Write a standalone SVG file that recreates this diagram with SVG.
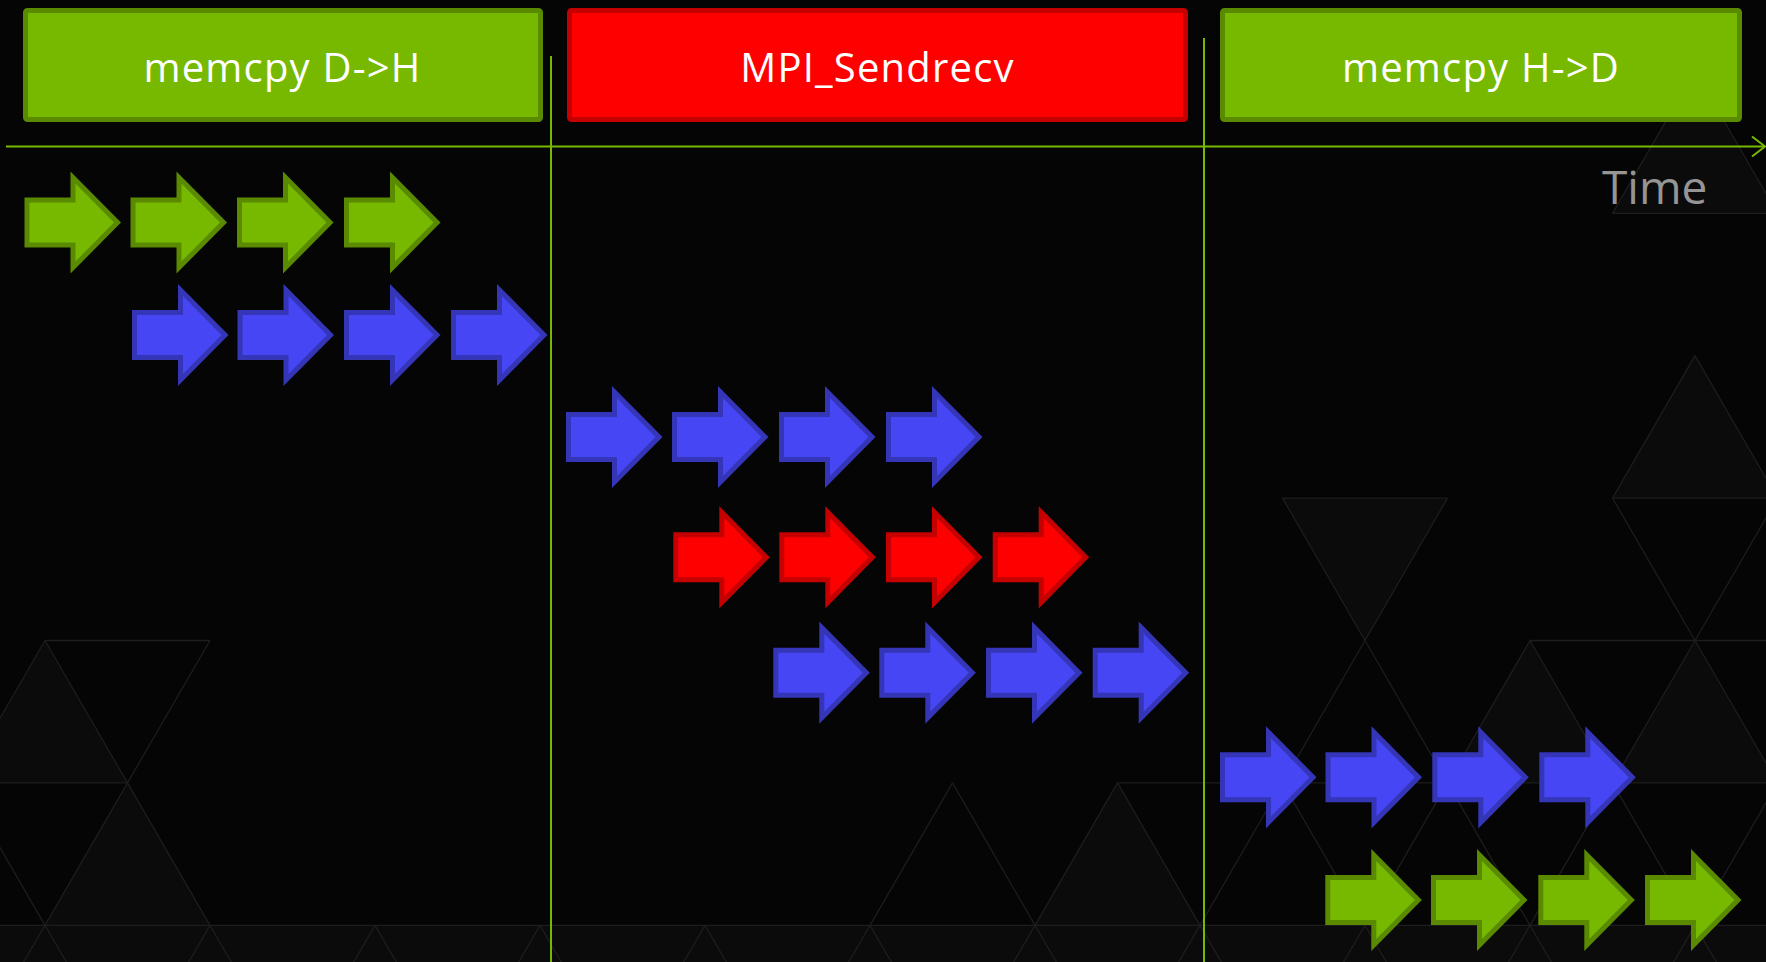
<svg xmlns="http://www.w3.org/2000/svg" xmlns:xlink="http://www.w3.org/1999/xlink" width="1766" height="962" viewBox="0 0 1766 962">
<style>
.bg{fill:#050505}
.tri{fill:#0b0b0c;stroke:none}
.lat{fill:none;stroke:#1d1d1d;stroke-width:1.3}
.box{stroke-width:5}
.boxg{fill:#76b900;stroke:#5a8a00}
.boxr{fill:#ff0000;stroke:#c40000}
.lbl{font-family:"Open Sans","Liberation Sans",sans-serif;font-size:40px;fill:#ffffff;text-anchor:middle;letter-spacing:1.2px}
.time{font-family:"Open Sans","Liberation Sans",sans-serif;font-size:46px;fill:#959595}
.axis{stroke:#76b900;stroke-width:2;fill:none}
.g{fill:#76b900;stroke:#5a8a00;stroke-width:5}
.b{fill:#4646f5;stroke:#3535b8;stroke-width:5}
.r{fill:#ff0000;stroke:#c40000;stroke-width:5}
</style>
<defs>
<path id="arr" d="M2.5,-22.5 H48.5 V-45 L93,0 L48.5,45 V22.5 H2.5 Z"/>
<marker id="chev" viewBox="0 0 16 22" markerWidth="16" markerHeight="22" refX="14" refY="11" orient="auto" markerUnits="userSpaceOnUse">
<path d="M1,1 L14,11 L1,21" fill="none" stroke="#76b900" stroke-width="2"/>
</marker>
</defs>
<g id="background">
<rect class="bg" x="0" y="0" width="1766" height="962"/>
<polygon class="tri" points="45,640.5 -37.5,782.9 127.5,782.9"/>
<polygon class="tri" points="127.5,782.9 45,925.3 210,925.3"/>
<polygon class="tri" points="1117.5,782.9 1035,925.3 1200,925.3"/>
<polygon class="tri" points="1695,355.7 1612.5,498.1 1777.5,498.1"/>
<polygon class="tri" points="1282.5,498.1 1447.5,498.1 1365,640.5"/>
<polygon class="tri" points="1695,70.9 1612.5,213.3 1777.5,213.3"/>
<polygon class="tri" points="1530,640.5 1447.5,782.9 1612.5,782.9"/>
<polygon class="tri" points="1695,640.5 1612.5,782.9 1777.5,782.9"/>
<rect class="tri" x="0" y="925.3" width="1766" height="40"/>
<path class="lat" d="M45,640.5 H210 M0,782.9 H127.5 M0,925.3 H1766
M45,640.5 L-37.5,782.9 M45,640.5 L127.5,782.9 M210,640.5 L127.5,782.9
M127.5,782.9 L45,925.3 M127.5,782.9 L210,925.3 M-37.5,782.9 L45,925.3
M952.5,782.9 L870,925.3 M952.5,782.9 L1035,925.3
M1117.5,782.9 L1035,925.3 M1117.5,782.9 L1200,925.3 M1117.5,782.9 H1766
M1612.5,213.3 H1766 M1695,70.9 L1612.5,213.3 M1695,70.9 L1777.5,213.3
M1695,355.7 L1612.5,498.1 M1695,355.7 L1777.5,498.1
M1282.5,498.1 H1447.5 M1612.5,498.1 H1766
M1282.5,498.1 L1365,640.5 L1447.5,498.1
M1612.5,498.1 L1695,640.5 L1777.5,498.1
M1530,640.5 H1766
M1365,640.5 L1282.5,782.9 M1365,640.5 L1447.5,782.9
M1530,640.5 L1447.5,782.9 M1530,640.5 L1612.5,782.9
M1695,640.5 L1612.5,782.9 M1695,640.5 L1777.5,782.9
M1282.5,782.9 L1200,925.3 M1282.5,782.9 L1365,925.3
M1447.5,782.9 L1365,925.3 M1447.5,782.9 L1530,925.3
M1612.5,782.9 L1530,925.3 M1612.5,782.9 L1695,925.3
M1777.5,782.9 L1695,925.3
M-120,925.3 l-82.5,142.4 M-120,925.3 l82.5,142.4
M45,925.3 l-82.5,142.4 M45,925.3 l82.5,142.4
M210,925.3 l-82.5,142.4 M210,925.3 l82.5,142.4
M375,925.3 l-82.5,142.4 M375,925.3 l82.5,142.4
M540,925.3 l-82.5,142.4 M540,925.3 l82.5,142.4
M705,925.3 l-82.5,142.4 M705,925.3 l82.5,142.4
M870,925.3 l-82.5,142.4 M870,925.3 l82.5,142.4
M1035,925.3 l-82.5,142.4 M1035,925.3 l82.5,142.4
M1200,925.3 l-82.5,142.4 M1200,925.3 l82.5,142.4
M1365,925.3 l-82.5,142.4 M1365,925.3 l82.5,142.4
M1530,925.3 l-82.5,142.4 M1530,925.3 l82.5,142.4
M1695,925.3 l-82.5,142.4 M1695,925.3 l82.5,142.4
M1860,925.3 l-82.5,142.4"/>
</g>
<g id="connectors">
<line class="axis" x1="6" y1="146.5" x2="1765" y2="146.5" marker-end="url(#chev)"/>
<line class="axis" x1="551" y1="56" x2="551" y2="962"/>
<line class="axis" x1="1204" y1="38" x2="1204" y2="962"/>
</g>
<g id="box-memcpy-dh">
<rect class="box boxg" x="25.5" y="10.5" width="515" height="109" rx="2"/>
<text class="lbl" x="282.5" y="82">memcpy D-&gt;H</text>
</g>
<g id="box-mpi-sendrecv">
<rect class="box boxr" x="569.5" y="10.5" width="616" height="109" rx="2"/>
<text class="lbl" x="877.5" y="82">MPI_Sendrecv</text>
</g>
<g id="box-memcpy-hd">
<rect class="box boxg" x="1222.5" y="10.5" width="517" height="109" rx="2"/>
<text class="lbl" x="1481" y="82">memcpy H-&gt;D</text>
</g>
<g id="time-label">
<text class="time" x="1602" y="204">Time</text>
</g>
<g id="row1-green">
<use xlink:href="#arr" class="g" x="24.5" y="222.5"/>
<use xlink:href="#arr" class="g" x="130.5" y="222.5"/>
<use xlink:href="#arr" class="g" x="237" y="222.5"/>
<use xlink:href="#arr" class="g" x="344" y="222.5"/>
</g>
<g id="row2-blue">
<use xlink:href="#arr" class="b" x="132" y="335"/>
<use xlink:href="#arr" class="b" x="237.5" y="335"/>
<use xlink:href="#arr" class="b" x="344" y="335"/>
<use xlink:href="#arr" class="b" x="451" y="335"/>
</g>
<g id="row3-blue">
<use xlink:href="#arr" class="b" x="566" y="437"/>
<use xlink:href="#arr" class="b" x="672" y="437"/>
<use xlink:href="#arr" class="b" x="779" y="437"/>
<use xlink:href="#arr" class="b" x="886" y="437"/>
</g>
<g id="row4-red">
<use xlink:href="#arr" class="r" x="673.3" y="557.3"/>
<use xlink:href="#arr" class="r" x="779.3" y="557.3"/>
<use xlink:href="#arr" class="r" x="886" y="557.3"/>
<use xlink:href="#arr" class="r" x="992.7" y="557.3"/>
</g>
<g id="row5-blue">
<use xlink:href="#arr" class="b" x="773.3" y="672.7"/>
<use xlink:href="#arr" class="b" x="879.3" y="672.7"/>
<use xlink:href="#arr" class="b" x="986" y="672.7"/>
<use xlink:href="#arr" class="b" x="1092.7" y="672.7"/>
</g>
<g id="row6-blue">
<use xlink:href="#arr" class="b" x="1220" y="777.3"/>
<use xlink:href="#arr" class="b" x="1325.5" y="777.3"/>
<use xlink:href="#arr" class="b" x="1432.3" y="777.3"/>
<use xlink:href="#arr" class="b" x="1539.3" y="777.3"/>
</g>
<g id="row7-green">
<use xlink:href="#arr" class="g" x="1325.3" y="900"/>
<use xlink:href="#arr" class="g" x="1431" y="900"/>
<use xlink:href="#arr" class="g" x="1538.3" y="900"/>
<use xlink:href="#arr" class="g" x="1645" y="900"/>
</g>
</svg>
